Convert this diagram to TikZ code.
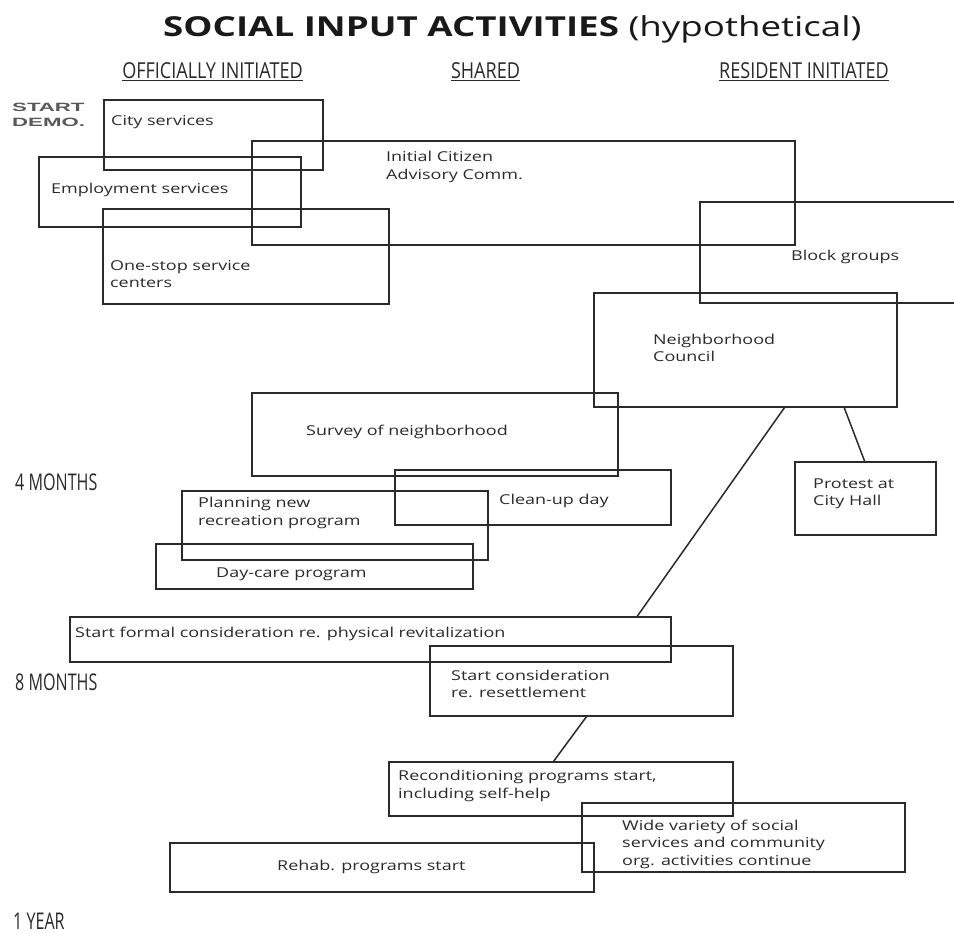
\documentclass[tikz,border=0pt]{standalone}
\usepackage{fontspec}
\setmainfont{Open Sans}[FakeStretch=1.32]
\newfontfamily\condfont{Open Sans}[FakeStretch=0.7]
\newfontfamily\hdrfont{Open Sans}[FakeStretch=0.82]
\newfontfamily\titlefont{Open Sans}[FakeStretch=1.335]
\newfontfamily\demofont{Liberation Sans}[FakeStretch=1.85]
\usetikzlibrary{calc}
\definecolor{ink}{HTML}{2B2B2B}
\begin{document}
\begin{tikzpicture}[x=1pt,y=-1pt,
  box/.style={draw=ink, line width=1.5pt, anchor=north west, inner sep=0pt, outer sep=0pt},
  txt/.style={anchor=west, inner sep=0pt, align=left, text=ink, font=\fontsize{13.6}{17.5}\selectfont},
  hdr/.style={anchor=base, inner sep=0pt, text=ink, font=\hdrfont\fontsize{22}{22}\selectfont},
  period/.style={anchor=west, inner sep=0pt, text=ink, font=\condfont\fontsize{23}{23}\selectfont},
  link/.style={draw=ink, line width=1.5pt}]
\useasboundingbox (0,0) rectangle (954,934);
\fill[white] (0,0) rectangle (954,934);

% title and column headings
\node[anchor=base west, inner sep=0pt, text=black!90, font=\titlefont\fontsize{27.5}{28}\selectfont] (title) at (163,37)
  {\textbf{SOCIAL INPUT ACTIVITIES} (hypothetical)};
\node[hdr] (h1) at (212.5,78) {OFFICIALLY INITIATED};
\node[hdr] (h2) at (485.5,78) {SHARED};
\node[hdr] (h3) at (804,78) {RESIDENT INITIATED};
\foreach \h in {h1,h2,h3}
  \draw[ink, line width=1pt] ([yshift=-2.5pt]\h.base west) -- ([yshift=-2.5pt]\h.base east);

% time labels
\node[anchor=west, inner sep=0pt, align=left, text=black!65, font=\demofont\bfseries\fontsize{12}{15}\selectfont] (start) at (12,115) {START\\DEMO.};
\node[period] (m4) at (15,482) {4 MONTHS};
\node[period] (m8) at (15,682) {8 MONTHS};
\node[period] (y1) at (13,921) {1 YEAR};

% boxes
\node[box, minimum width=219pt, minimum height=70pt] (city) at (104,100) {};
\node[box, minimum width=543pt, minimum height=104pt] (icac) at (252,141) {};
\node[box, minimum width=262pt, minimum height=70pt] (emp) at (39,157) {};
\node[box, minimum width=286pt, minimum height=95pt] (onestop) at (103,209) {};
\node[box, minimum width=270pt, minimum height=101pt] (block) at (700,202) {};
\node[box, minimum width=303pt, minimum height=114pt] (nc) at (594,293) {};
\node[box, minimum width=366pt, minimum height=83pt] (survey) at (252,393) {};
\node[box, minimum width=276pt, minimum height=55pt] (cleanup) at (395,470) {};
\node[box, minimum width=306pt, minimum height=69pt] (planning) at (182,491) {};
\node[box, minimum width=317pt, minimum height=45pt] (daycare) at (156,544) {};
\node[box, minimum width=141pt, minimum height=73pt] (protest) at (795,462) {};
\node[box, minimum width=601pt, minimum height=45pt] (formal) at (70,617) {};
\node[box, minimum width=303pt, minimum height=70pt] (resettle) at (430,646) {};
\node[box, minimum width=344pt, minimum height=54pt] (recond) at (389,762) {};
\node[box, minimum width=323pt, minimum height=69pt] (wide) at (582,803) {};
\node[box, minimum width=424pt, minimum height=49pt] (rehab) at (170,843) {};

% texts
\node[txt] (tcity) at (111,122) {City services};
\node[txt] (ticac) at (386,167) {Initial Citizen\\Advisory Comm.};
\node[txt] (temp) at (51,190) {Employment services};
\node[txt] (tonestop) at (110,274) {One-stop service\\centers};
\node[txt] (tblock) at (791,257) {Block groups};
\node[txt] (tnc) at (653,348) {Neighborhood\\Council};
\node[txt] (tsurvey) at (306,432) {Survey of neighborhood};
\node[txt] (tcleanup) at (499,501) {Clean-up day};
\node[txt] (tplanning) at (198,513) {Planning new\\recreation program};
\node[txt] (tdaycare) at (216,574) {Day-care program};
\node[txt] (tprotest) at (813,494) {Protest at\\City Hall};
\node[txt] (tformal) at (75,634) {Start formal consideration re. physical revitalization};
\node[txt] (tresettle) at (451,684) {Start consideration\\re. resettlement};
\node[txt] (trecond) at (398,786) {Reconditioning programs start,\\including self-help};
\node[txt] (twide) at (622,844) {Wide variety of social\\services and community\\org. activities continue};
\node[txt] (trehab) at (277,867) {Rehab. programs start};

% connectors
\draw[link] ($(nc.south west)!0.63!(nc.south east)$) -- ($(formal.north west)!0.943!(formal.north east)$);
\draw[link] ($(nc.south west)!0.825!(nc.south east)$) -- ($(protest.north west)!0.496!(protest.north east)$);
\draw[link] ($(resettle.south west)!0.518!(resettle.south east)$) -- ($(recond.north west)!0.477!(recond.north east)$);
\end{tikzpicture}
\end{document}
